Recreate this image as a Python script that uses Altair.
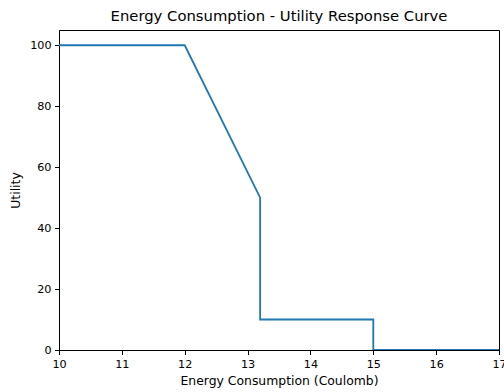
import altair as alt
import pandas as pd

energy = [10, 12, 13.2, 13.2, 15, 15, 17]
utility = [100, 100, 50, 10, 10, 0, 0]

df = pd.DataFrame({"energy": energy, "utility": utility, "idx": list(range(len(energy)))})

font = "DejaVu Sans"

chart = alt.Chart(df).mark_line(color="#1f77b4", strokeWidth=1.8, clip=True).encode(
    x=alt.X("energy:Q", scale=alt.Scale(domain=[10, 17], nice=False, zero=False),
            axis=alt.Axis(values=[10, 11, 12, 13, 14, 15, 16, 17], title="Energy Consumption (Coulomb)",
                          format="d")),
    y=alt.Y("utility:Q", scale=alt.Scale(domain=[0, 105], nice=False),
            axis=alt.Axis(values=[0, 20, 40, 60, 80, 100], title="Utility")),
    order="idx:O",
).properties(
    width=440, height=320,
    title=alt.TitleParams("Energy Consumption - Utility Response Curve", fontSize=14.8,
                          font=font, fontWeight="normal", color="black", offset=6),
    autosize=alt.AutoSizeParams(type="none"),
    padding={"left": 59, "top": 30, "right": 5, "bottom": 42},
).configure_axis(
    grid=False, domainColor="black", domainWidth=1, tickColor="black", tickSize=4.5,
    labelFont=font, labelFontSize=11.2, labelColor="black", labelPadding=3.5,
    titleFont=font, titleFontSize=12.4, titleFontWeight="normal", titleColor="black",
).configure_axisX(titlePadding=5, labelFlush=False).configure_axisY(titlePadding=7).configure_view(
    stroke="black", strokeWidth=1
)

chart.save("out.html", embed_options={"renderer": "svg", "actions": False})
